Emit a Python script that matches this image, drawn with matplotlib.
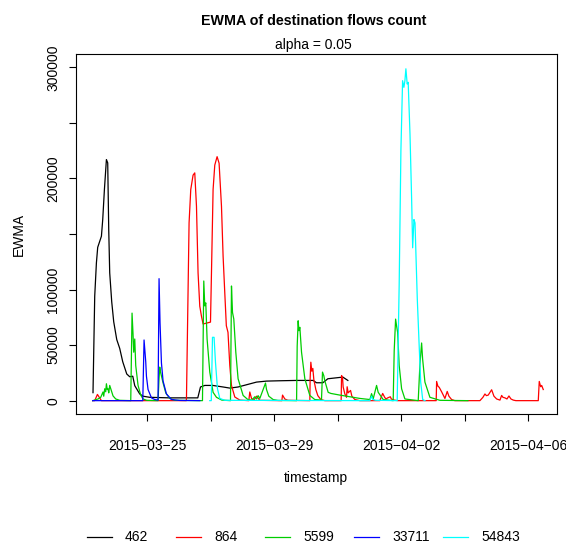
import numpy as np
import pandas as pd
import matplotlib
matplotlib.use("Agg")
import matplotlib.pyplot as plt
from matplotlib.lines import Line2D

plt.rcParams['font.family'] = ['Liberation Sans', 'DejaVu Sans']

# time in days since 2015-03-23 00:00, values = EWMA of flow count
start = pd.Timestamp("2015-03-23")

days_462 = [0.299, 0.353, 0.406, 0.447, 0.564, 0.605, 0.658, 0.721, 0.762, 0.794,
            0.825, 0.888, 0.951, 1.046, 1.140, 1.235, 1.361, 1.455, 1.550, 1.613,
            1.770, 1.874, 2.085, 2.715, 3.597, 3.682, 3.817, 4.069, 4.394, 4.605,
            4.866, 5.131, 5.446, 5.761, 6.180, 6.706, 7.228, 7.335, 7.534, 7.691,
            8.164, 8.321]
ewma_462 = [7200, 94000, 124000, 138000, 148000, 163000, 190000, 217000, 214000, 154000,
            115000, 89000, 71000, 55000, 47000, 35000, 24000, 21500, 22000, 13500,
            6000, 4000, 3000, 2500, 2500, 12300, 13700, 13700, 12300, 11300,
            12300, 14300, 16700, 17600, 17900, 18200, 18200, 16100, 16100, 19700,
            21200, 18200]

days_864 = [0.290, 0.353, 0.438, 0.564, 3.235, 3.241, 3.323, 3.376, 3.449, 3.502,
            3.556, 3.606, 3.660, 3.713, 3.764, 3.997, 4.028, 4.079, 4.132, 4.205,
            4.268, 4.343, 4.394, 4.447, 4.496, 4.548, 4.605, 4.658, 4.762, 4.920,
            5.203, 5.235, 5.288, 5.361, 5.446, 5.55, 6.243, 6.265, 6.337, 6.432,
            7.124, 7.134, 7.156, 7.187, 7.219, 7.250, 7.313, 7.376, 7.471, 7.597,
            8.110, 8.123, 8.154, 8.173, 8.227, 8.280, 8.299, 8.331, 8.406, 8.447,
            8.542, 8.699, 9.329, 9.417, 9.480, 9.520, 9.575, 9.658, 9.690, 9.780,
            9.890, 11.102, 11.115, 11.156, 11.197, 11.272, 11.376, 11.449, 11.502, 11.587,
            11.690, 12.478, 12.573, 12.636, 12.683, 12.740, 12.847, 12.920, 13.005, 13.109,
            13.162, 13.203, 13.266, 13.329, 13.392, 13.455, 13.528, 13.610, 14.315, 14.346,
            14.391, 14.422, 14.472]
ewma_864 = [0, 0, 5600, 0, 0, 2000, 160000, 190000, 203000, 205000,
            175000, 115000, 85000, 76000, 69000, 70700, 115000, 190000, 212000, 219600,
            213700, 175000, 130000, 97000, 67400, 61500, 31600, 13700, 3300, 500,
            0, 7800, 2000, 500, 4000, 300, 0, 5000, 1500, 300,
            0, 20000, 34600, 26500, 29000, 19000, 10000, 4500, 1000, 0,
            0, 22600, 20600, 12300, 6000, 3000, 12500, 7000, 9200, 4000,
            1000, 0, 0, 6500, 3000, 1500, 2500, 3500, 1500, 500,
            0, 0, 17300, 13000, 12000, 8000, 2000, 8300, 4000, 1000,
            0, 0, 3000, 6000, 4500, 5000, 9800, 4000, 1500, 500,
            4700, 3000, 2500, 1500, 4200, 1500, 500, 0, 0, 17300,
            12500, 13700, 10000]

days_5599 = [0.290, 0.457, 0.542, 0.614, 0.636, 0.668, 0.699, 0.721, 0.747, 0.772,
             0.794, 0.825, 0.879, 0.929, 1.014, 1.140, 1.487, 1.528, 1.559, 1.581,
             1.613, 1.644, 1.717, 1.802, 1.874, 1.991, 2.346, 2.378, 2.400, 2.422,
             2.504, 2.589, 2.715, 2.872, 3.745, 3.786, 3.817, 3.849, 3.890, 3.975,
             4.079, 4.186, 4.353, 4.627, 4.658, 4.690, 4.731, 4.794, 4.866, 5.024,
             5.172, 5.298, 5.392, 5.446, 5.496, 5.550, 5.654, 5.729, 5.761, 5.833,
             5.969, 6.117, 6.707, 6.726, 6.757, 6.780, 6.810, 6.863, 6.967, 7.124,
             7.280, 7.491, 7.523, 7.564, 7.595, 7.701, 7.786, 8.069, 8.384, 8.699,
             9.014, 9.068, 9.118, 9.225, 9.276, 9.433, 9.748, 9.780, 9.824, 9.854,
             9.888, 9.937, 10.013, 10.117, 10.536, 10.589, 10.643, 10.674, 10.747, 10.904,
             11.220, 12.100]
ewma_5599 = [0, 1500, 3000, 7800, 4000, 10700, 8000, 15200, 10000, 10700,
             7000, 13700, 8800, 4300, 1500, 300, 0, 78800, 60000, 43600,
             55500, 31600, 13700, 5000, 1500, 300, 0, 20000, 30200, 26000,
             16000, 7000, 2000, 300, 0, 107700, 85300, 88000, 55500, 25700,
             7500, 3000, 500, 0, 103200, 79400, 73400, 43600, 19700, 4700,
             1000, 500, 3500, 1500, 4500, 2000, 10000, 15800, 10000, 4000,
             1000, 200, 0, 49000, 71900, 63000, 66000, 43600, 19700, 4700,
             1000, 500, 25700, 22500, 17900, 7500, 6500, 5000, 3500, 2000,
             1000, 6300, 1500, 13700, 7500, 1000, 0, 45000, 73400, 67400,
             61500, 31600, 10700, 1500, 0, 32200, 51900, 37600, 16700, 3000,
             300, 0]

days_33711 = [0.290, 1.866, 1.906, 1.959, 1.981, 2.032, 2.139, 2.243, 2.346, 2.378,
              2.409, 2.453, 2.504, 2.611, 2.768, 3.030, 3.660]
ewma_33711 = [0, 0, 54600, 35000, 22000, 10000, 2500, 1000, 500, 109800,
              70000, 34000, 17700, 6000, 1000, 200, 0]

days_54843 = [3.975, 4.022, 4.060, 4.110, 4.154, 4.217, 4.290, 4.447, 9.014, 9.068,
              9.109, 9.200, 9.874, 9.937, 9.991, 10.044, 10.085, 10.117, 10.148, 10.189,
              10.220, 10.277, 10.329, 10.361, 10.402, 10.435, 10.466, 10.507, 10.570, 10.614,
              10.677, 10.750]
ewma_54843 = [0, 0, 57000, 57000, 34600, 10700, 2000, 300, 0, 4000,
              1000, 300, 0, 105000, 225000, 288000, 282000, 288000, 298700, 285000,
              286500, 240000, 181000, 137600, 163000, 160000, 130000, 91300, 46600, 16700,
              1000, 0]

names = ["462", "864", "5599", "33711", "54843"]
colors = ["black", "#FF0000", "#00CD00", "#0000FF", "#00FFFF"]
series = [(days_462, ewma_462), (days_864, ewma_864), (days_5599, ewma_5599),
          (days_33711, ewma_33711), (days_54843, ewma_54843)]

fig = plt.figure(figsize=(5.66, 5.45), dpi=100)
ax = fig.add_axes([0.1337, 0.2404, 0.8503, 0.6605])

for (d, v), c in zip(series, colors):
    t = start + pd.to_timedelta(np.array(d), unit="D")
    ax.plot(t, v, color=c, lw=0.9)

ax.set_xlim(pd.Timestamp("2015-03-22 18:05"), pd.Timestamp("2015-04-06 21:40"))
ax.set_ylim(-12000, 312000)

xt = pd.date_range("2015-03-25", "2015-04-06", freq="2D")
ax.set_xticks(xt)
ax.set_xticklabels([d.strftime("%Y\u2212%m\u2212%d") if i % 2 == 0 else ""
                    for i, d in enumerate(xt)])
yt = np.arange(0, 300001, 50000)
ax.set_yticks(yt)
ax.set_yticklabels(["0", "50000", "100000", "", "200000", "", "300000"],
                   rotation=90, va="center")
ax.tick_params(direction="out", length=5, width=0.8, labelsize=10)
ax.tick_params(axis="x", pad=13)
ax.tick_params(axis="y", pad=6)
for s in ax.spines.values():
    s.set_linewidth(0.8)

ax.set_xlabel("timestamp", fontsize=10, labelpad=13)
ax.set_ylabel("EWMA", fontsize=10, labelpad=15)

fig.text(0.5543, 1 - 21 / 545, "EWMA of destination flows count", ha="center",
         va="center", fontsize=10.3, fontweight="bold")
fig.text(0.5543, 1 - 45 / 545, "alpha = 0.05", ha="center", va="center", fontsize=10)

# legend along the bottom
for i, (n, c) in enumerate(zip(names, colors)):
    x0 = (87 + 89 * i) / 566
    y0 = 8 / 545
    fig.add_artist(Line2D([x0, x0 + 25 / 566], [y0, y0], color=c, lw=0.9))
    fig.text(x0 + 38 / 566, y0, n, ha="left", va="center", fontsize=10)

fig.savefig("out.png", dpi=100)
